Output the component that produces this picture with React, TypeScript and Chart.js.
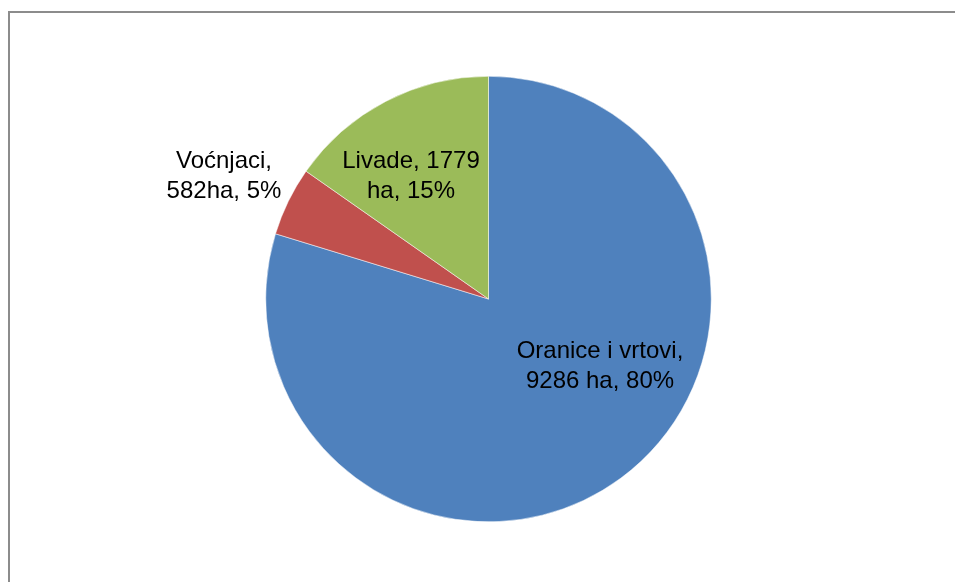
import React, { useEffect, useRef } from "react";
import { Chart, registerables } from "chart.js";

Chart.register(...registerables);

const categories = ["Oranice i vrtovi", "Voćnjaci", "Livade"];
const values = [9286, 582, 1779];
const labelLines = [
  ["Oranice i vrtovi,", "9286 ha, 80%"],
  ["Voćnjaci,", "582ha, 5%"],
  ["Livade, 1779", "ha, 15%"],
];
const colors = ["#4F81BD", "#C0504D", "#9BBB59"];
const labelPos = [
  [600, 351],
  [224, 161],
  [411, 161],
];

export default function App() {
  const ref = useRef<HTMLCanvasElement | null>(null);
  useEffect(() => {
    if (!ref.current) return;
    const framePlugin = {
      id: "frame",
      beforeDraw(chart: any) {
        const ctx = chart.ctx;
        ctx.save();
        ctx.fillStyle = "#ffffff";
        ctx.fillRect(0, 0, chart.width, chart.height);
        ctx.strokeStyle = "#8c8c8c";
        ctx.lineWidth = 2;
        ctx.beginPath();
        ctx.moveTo(9, 582);
        ctx.lineTo(9, 12);
        ctx.lineTo(955, 12);
        ctx.stroke();
        ctx.restore();
      },
    };
    const labelPlugin = {
      id: "labels",
      afterDraw(chart: any) {
        const ctx = chart.ctx;
        ctx.save();
        ctx.font = "24px 'Liberation Sans', Arial, sans-serif";
        ctx.fillStyle = "#000000";
        ctx.textAlign = "center";
        ctx.textBaseline = "middle";
        labelLines.forEach((lines, i) => {
          const [x, y] = labelPos[i];
          lines.forEach((t, j) => ctx.fillText(t, x, y + j * 30));
        });
        ctx.restore();
      },
    };
    const chart = new Chart(ref.current, {
      type: "pie",
      data: {
        labels: categories,
        datasets: [
          {
            data: values,
            backgroundColor: colors,
            borderColor: "#ffffff",
            borderWidth: 0.5,
          },
        ],
      },
      options: {
        animation: false,
        responsive: false,
        maintainAspectRatio: false,
        layout: { padding: { top: 76, bottom: 60, left: 265, right: 243 } },
        plugins: { legend: { display: false }, tooltip: { enabled: false } },
      },
      plugins: [framePlugin, labelPlugin],
    });
    return () => chart.destroy();
  }, []);
  return (
    <div style={{ position: "fixed", left: 0, top: 0, width: 955, height: 582 }}>
      <canvas ref={ref} width={955} height={582} style={{ display: "block" }} />
    </div>
  );
}
